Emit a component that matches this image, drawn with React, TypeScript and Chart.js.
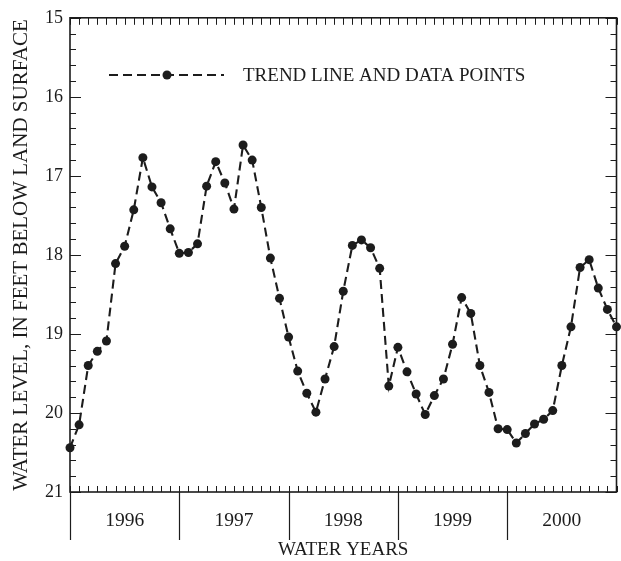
import React, { useEffect, useRef } from 'react';
import { Chart, registerables } from 'chart.js';

Chart.register(...registerables);

// ---- data (monthly, Oct 1995 -> Oct 2000) ----
const WATER_YEARS = ['1996', '1997', '1998', '1999', '2000'];
const MONTHS_PER_YEAR = 12;
const WATER_LEVEL = [
  20.44, 20.15, 19.4, 19.22, 19.09, 18.11, 17.89, 17.43, 16.77, 17.14,
  17.34, 17.67, 17.98, 17.97, 17.86, 17.13, 16.82, 17.09, 17.42, 16.61,
  16.8, 17.4, 18.04, 18.55, 19.04, 19.47, 19.75, 19.99, 19.57, 19.16,
  18.46, 17.88, 17.81, 17.91, 18.17, 19.66, 19.17, 19.48, 19.76, 20.02,
  19.78, 19.57, 19.13, 18.54, 18.74, 19.4, 19.74, 20.2, 20.21, 20.38,
  20.26, 20.14, 20.08, 19.97, 19.4, 18.91, 18.16, 18.06, 18.42, 18.69,
  18.91,
];
const Y_MIN = 15;
const Y_MAX = 21;
const Y_MINOR_STEP = 0.2;
const LEGEND_LABEL = 'TREND LINE AND DATA POINTS';
const Y_TITLE = 'WATER LEVEL, IN FEET BELOW LAND SURFACE';
const X_TITLE = 'WATER YEARS';

const FONT = "'Liberation Serif', 'Times New Roman', Times, serif";
const INK = '#1c1c1c';
const DASH = [9, 5];
const LINE_W = 2.1;
const POINT_R = 4.5;

const framePlugin = {
  id: 'frameTicks',
  afterDraw(chart: any) {
    const { ctx, chartArea, scales } = chart;
    const { left, right, top, bottom } = chartArea;
    const x = scales.x;
    const y = scales.y;
    ctx.save();
    ctx.strokeStyle = INK;
    ctx.lineWidth = 1;
    // y ticks, inward, both sides
    const nY = Math.round((Y_MAX - Y_MIN) / Y_MINOR_STEP);
    const perMajor = Math.round(1 / Y_MINOR_STEP);
    for (let k = 0; k <= nY; k++) {
      const py = Math.round(y.getPixelForValue(Y_MIN + k * Y_MINOR_STEP)) + 0.5;
      const len = k % perMajor === 0 ? 11 : 6;
      ctx.beginPath();
      ctx.moveTo(left, py);
      ctx.lineTo(left + len, py);
      ctx.moveTo(right, py);
      ctx.lineTo(right - len, py);
      ctx.stroke();
    }
    // x month ticks, inward top and bottom
    const nMonths = WATER_YEARS.length * MONTHS_PER_YEAR;
    for (let m = 0; m <= nMonths; m++) {
      const px = Math.round(x.getPixelForValue(m)) + 0.5;
      ctx.beginPath();
      ctx.moveTo(px, top);
      ctx.lineTo(px, top + 7);
      ctx.moveTo(px, bottom);
      ctx.lineTo(px, bottom - 6);
      ctx.stroke();
    }
    // water-year separators below the axis
    ctx.lineWidth = 1.2;
    for (let i = 0; i < WATER_YEARS.length; i++) {
      const px = Math.round(x.getPixelForValue(i * MONTHS_PER_YEAR)) + 0.5;
      ctx.beginPath();
      ctx.moveTo(px, bottom);
      ctx.lineTo(px, bottom + 48);
      ctx.stroke();
    }
    // frame
    ctx.lineWidth = 1.6;
    ctx.strokeRect(left, top, right - left, bottom - top);

    // legend
    const ly = 75;
    const lx0 = 109;
    const lx1 = 224;
    const ldot = 167;
    ctx.lineWidth = LINE_W;
    ctx.setLineDash(DASH);
    ctx.beginPath();
    ctx.moveTo(lx0, ly);
    ctx.lineTo(lx1, ly);
    ctx.stroke();
    ctx.setLineDash([]);
    ctx.fillStyle = INK;
    ctx.beginPath();
    ctx.arc(ldot, ly, POINT_R, 0, Math.PI * 2);
    ctx.fill();
    ctx.font = `19px ${FONT}`;
    ctx.textBaseline = 'middle';
    ctx.textAlign = 'left';
    ctx.fillText(LEGEND_LABEL, 243, ly + 1);
    ctx.restore();
  },
};

export default function App() {
  const ref = useRef<HTMLCanvasElement | null>(null);

  useEffect(() => {
    if (!ref.current) return;
    const nMonths = WATER_YEARS.length * MONTHS_PER_YEAR;
    const chart = new Chart(ref.current, {
      type: 'line',
      data: {
        datasets: [
          {
            label: LEGEND_LABEL,
            data: WATER_LEVEL.map((v, i) => ({ x: i, y: v })),
            borderColor: INK,
            borderWidth: LINE_W,
            borderDash: DASH,
            pointRadius: POINT_R,
            pointBackgroundColor: INK,
            pointBorderWidth: 0,
            tension: 0,
            clip: false as any,
          },
        ],
      },
      options: {
        animation: false,
        responsive: false,
        devicePixelRatio: 1,
        layout: { padding: { left: 0, right: 4, top: 14, bottom: 0 } },
        plugins: { legend: { display: false }, tooltip: { enabled: false } },
        scales: {
          x: {
            type: 'linear',
            min: 0,
            max: nMonths,
            grid: { display: false, drawTicks: false },
            border: { display: false },
            afterBuildTicks: (scale: any) => {
              scale.ticks = WATER_YEARS.map((_, i) => ({ value: i * MONTHS_PER_YEAR + MONTHS_PER_YEAR / 2 }));
            },
            afterFit: (scale: any) => {
              scale.height = 69;
            },
            ticks: {
              autoSkip: false,
              maxRotation: 0,
              padding: 17,
              color: INK,
              font: { family: FONT, size: 19.5 },
              callback: (v: any) => WATER_YEARS[Math.round((Number(v) - MONTHS_PER_YEAR / 2) / MONTHS_PER_YEAR)] ?? '',
            },
            title: {
              display: true,
              text: X_TITLE,
              color: INK,
              font: { family: FONT, size: 19 },
              padding: { top: 0, bottom: 0 },
            },
          },
          y: {
            type: 'linear',
            reverse: true,
            min: Y_MIN,
            max: Y_MAX,
            grid: { display: false, drawTicks: false },
            border: { display: false },
            afterFit: (scale: any) => {
              scale.width = 70;
            },
            ticks: {
              stepSize: 1,
              padding: 7,
              color: INK,
              font: { family: FONT, size: 18 },
              callback: (v: any) => String(v),
            },
            title: {
              display: true,
              text: Y_TITLE,
              color: INK,
              font: { family: FONT, size: 21 },
              padding: { top: 9, bottom: 0 },
            },
          },
        },
      },
      plugins: [framePlugin],
    });
    return () => chart.destroy();
  }, []);

  return (
    <div style={{ position: 'absolute', left: 0, top: 0, width: 621, height: 561, background: '#fff' }}>
      <canvas ref={ref} width={621} height={561} style={{ width: 621, height: 561, display: 'block' }} />
    </div>
  );
}
